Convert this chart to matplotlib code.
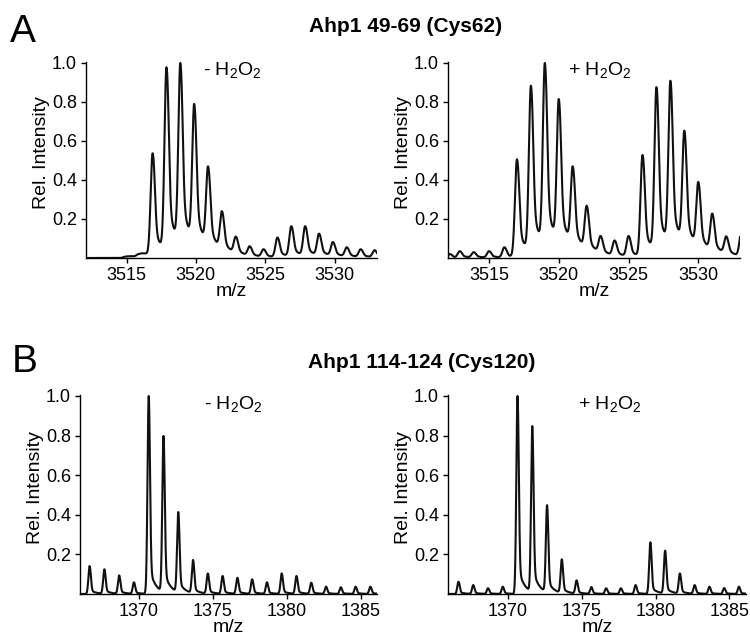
import numpy as np
import matplotlib
matplotlib.use('Agg')
from matplotlib import pyplot as plt

plt.rcParams['font.family'] = ['Liberation Sans', 'DejaVu Sans']
plt.rcParams['mathtext.fontset'] = 'custom'
plt.rcParams['mathtext.rm'] = 'Liberation Sans'
plt.rcParams['mathtext.it'] = 'Liberation Sans:italic'

# figure size in pixels
W, H = 750, 640

# peak lists (m/z of each peak, rel. height)
# A: Ahp1 49-69 (Cys62)
a_minus_mz = [3514.9, 3515.2, 3515.5, 3515.85, 3516.15, 3516.45,
              3516.88, 3517.88, 3518.88, 3519.88, 3520.88, 3521.88, 3522.88, 3523.88, 3524.88,
              3525.88, 3526.88, 3527.88, 3528.88, 3529.88, 3530.88, 3531.88, 3532.88]
a_minus_int = [0.007, 0.009, 0.009, 0.02, 0.024, 0.026,
               0.537, 0.978, 1.0, 0.79, 0.47, 0.24, 0.11, 0.06, 0.045,
               0.105, 0.163, 0.163, 0.125, 0.082, 0.055, 0.045, 0.04]

a_plus_mz = [3512.2, 3512.9, 3513.9, 3515.0, 3516.1,
             3517.0, 3518.0, 3519.0, 3520.0, 3521.0, 3522.0, 3523.0, 3524.0, 3525.0,
             3526.0, 3527.0, 3528.0, 3529.0, 3530.0, 3531.0, 3532.0, 3533.1]
a_plus_int = [0.02, 0.035, 0.03, 0.035, 0.055,
              0.506, 0.883, 1.0, 0.815, 0.47, 0.268, 0.113, 0.09, 0.113,
              0.528, 0.876, 0.909, 0.653, 0.39, 0.228, 0.111, 0.14]

# B: Ahp1 114-124 (Cys120)
b_mz = [1366.65, 1367.65, 1368.65, 1369.65, 1370.65, 1371.65, 1372.65, 1373.65, 1374.65, 1375.65,
        1376.65, 1377.65, 1378.65, 1379.65, 1380.65, 1381.65, 1382.65, 1383.65, 1384.65, 1385.65]
b_minus_int = [0.141, 0.125, 0.094, 0.059, 1.0, 0.798, 0.414, 0.172, 0.104, 0.091,
               0.082, 0.074, 0.059, 0.104, 0.091, 0.057, 0.037, 0.034, 0.037, 0.037]
b_plus_int = [0.062, 0.045, 0.029, 0.037, 1.0, 0.848, 0.449, 0.175, 0.069, 0.035,
              0.029, 0.029, 0.045, 0.261, 0.219, 0.104, 0.045, 0.037, 0.03, 0.037]

a_ticks = [3515, 3520, 3525, 3530]
b_ticks = [1370, 1375, 1380, 1385]
y_ticks = [0.2, 0.4, 0.6, 0.8, 1.0]


def peak_shape(x, c, sigma, tail_amp, tail_tau):
    # gaussian core with a tail towards higher m/z
    d = x - c
    dp = np.clip(d, 0, None)
    core = np.exp(-0.5 * (d / sigma) ** 2)
    tail = tail_amp * np.exp(-dp / tail_tau) * (1 - np.exp(-(dp / sigma) ** 2))
    return core + tail


def spectrum(x, centers, heights, sigma, tail_amp, tail_tau):
    centers = np.asarray(centers)
    heights = np.asarray(heights)
    # solve amplitudes so the drawn peak tops match the read heights
    m = np.array([[peak_shape(ci, cj, sigma, tail_amp, tail_tau) for cj in centers] for ci in centers])
    amps = np.clip(np.linalg.solve(m, heights), 0.001, None)
    y = np.zeros_like(x)
    for c, a in zip(centers, amps):
        y += a * peak_shape(x, c, sigma, tail_amp, tail_tau)
    return y


def px(x, y):
    return x / W, 1 - y / H


fig = plt.figure(figsize=(W / 100, H / 100), dpi=100)

# axes boxes in pixels: left, right, top, bottom
panels = [
    (86, 377, 62, 258, (3512.08, 3533.06), a_ticks, a_minus_mz, a_minus_int, (0.14, 0.3, 0.7), r'- H$_2$O$_2$', (203, 75)),
    (448, 740, 62, 258, (3512.06, 3532.99), a_ticks, a_plus_mz, a_plus_int, (0.14, 0.3, 0.7), r'+ H$_2$O$_2$', (568, 75)),
    (80, 377, 395, 594, (1366.0, 1386.1), b_ticks, b_mz, b_minus_int, (0.08, 0.15, 0.4), r'- H$_2$O$_2$', (204, 409)),
    (448, 746, 395, 594, (1365.94, 1386.13), b_ticks, b_mz, b_plus_int, (0.08, 0.15, 0.4), r'+ H$_2$O$_2$', (578, 409)),
]

for x0, x1, y0, y1, xlim, xt, mz, inten, shp, note, npos in panels:
    ax = fig.add_axes([x0 / W, 1 - y1 / H, (x1 - x0) / W, (y1 - y0) / H])
    x = np.linspace(xlim[0], xlim[1], 3000)
    y = spectrum(x, mz, inten, *shp)
    ax.plot(x, y, color='#111111', lw=1.5)
    ax.set_xlim(xlim)
    ax.set_ylim(0, 1.005)
    ax.set_xticks(xt)
    ax.set_yticks(y_ticks)
    ax.set_yticklabels(['%.1f' % v for v in y_ticks])
    for s in ['top', 'right']:
        ax.spines[s].set_visible(False)
    for s in ['left', 'bottom']:
        ax.spines[s].set_linewidth(1.0)
    ax.tick_params(direction='out', length=3.5, width=1, labelsize=13, pad=3)
    fig.text(*px(*npos), note, fontsize=14, ha='left', va='baseline')
    # axis labels
    fig.text(*px(x0 - 45, (y0 + y1) / 2 - 7), 'Rel. Intensity', fontsize=14, rotation=90,
             ha='center', va='center')
    fig.text(*px((x0 + x1) / 2, y1 + 33), 'm/z', fontsize=14, ha='center', va='center')

fig.text(*px(406, 32), 'Ahp1 49-69 (Cys62)', fontsize=15, fontweight='bold', ha='center', va='baseline')
fig.text(*px(422, 368), 'Ahp1 114-124 (Cys120)', fontsize=15, fontweight='bold', ha='center', va='baseline')
fig.text(*px(10, 42), 'A', fontsize=28, ha='left', va='baseline')
fig.text(*px(12, 372), 'B', fontsize=28, ha='left', va='baseline')

plt.savefig('out.png', dpi=100)
